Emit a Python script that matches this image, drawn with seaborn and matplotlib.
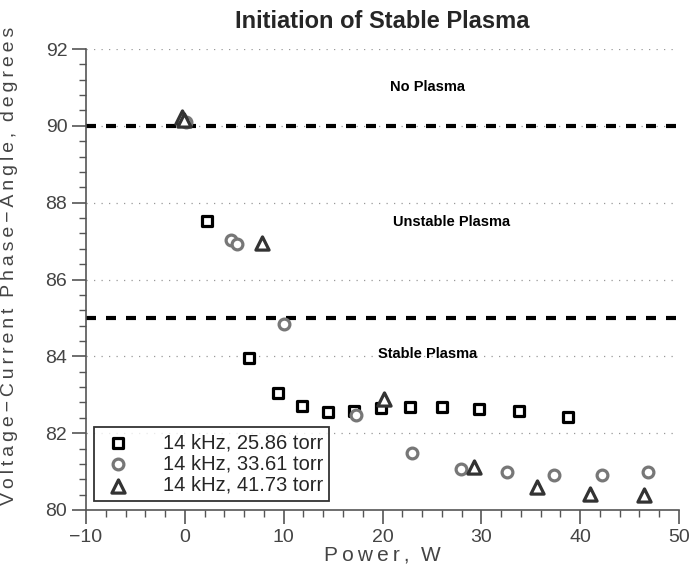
import numpy as np
import pandas as pd
import matplotlib
matplotlib.use("Agg")
import matplotlib.pyplot as plt
import seaborn as sns
from matplotlib.ticker import MultipleLocator

# Datos
pot_2586 = [2.2, 6.5, 9.4, 11.9, 14.5, 17.1, 19.8, 22.8, 26.0, 29.8, 33.8, 38.8]
fase_2586 = [87.52, 83.96, 83.05, 82.70, 82.55, 82.58, 82.65, 82.68, 82.68, 82.62, 82.58, 82.43]

pot_3361 = [0.1, 4.7, 5.3, 10.0, 17.3, 23.0, 27.9, 32.6, 37.4, 42.2, 46.9]
fase_3361 = [90.1, 87.04, 86.92, 84.85, 82.48, 81.48, 81.08, 81.0, 80.92, 80.92, 80.98]

pot_4173 = [-0.25, -0.1, 7.8, 20.2, 29.3, 35.6, 41.0, 46.5]
fase_4173 = [90.22, 90.14, 86.96, 82.88, 81.11, 80.6, 80.42, 80.4]

etiquetas = ["14 kHz, 25.86 torr", "14 kHz, 33.61 torr", "14 kHz, 41.73 torr"]
limites = [90, 85]
regiones = ["No Plasma", "Unstable Plasma", "Stable Plasma"]
pos_regiones = [(24.6, 91.0), (27.0, 87.5), (24.6, 84.05)]


def espaciar(texto):
    # Separa las letras con un espacio fino, como en la figura original
    return "\u2009".join(texto)


sns.set_style("white")
plt.rcParams['font.family'] = ['Liberation Sans', 'DejaVu Sans']
plt.rcParams['axes.unicode_minus'] = True

fig = plt.figure(figsize=(6.91, 5.76), dpi=100)
ax = fig.add_axes([0.1245, 0.1146, 0.8581, 0.8003])

gris_eje = "#555555"

# Rejilla punteada horizontal
for yv in [82, 84, 86, 88, 90, 92]:
    ax.axhline(yv, color="#999999", lw=0.9, ls=(0, (1, 5)), zorder=0)

# Líneas de límite entre regiones
for yv in limites:
    ax.axhline(yv, color="black", lw=3.0, ls=(0, (2.4, 2.4)), zorder=1)

sns.scatterplot(x=pot_2586, y=fase_2586, ax=ax, marker="s", s=42, color="white",
                edgecolor="black", linewidth=2.3, label=etiquetas[0], zorder=3)
sns.scatterplot(x=pot_3361, y=fase_3361, ax=ax, marker="o", s=60, color="white",
                edgecolor="#777777", linewidth=2.3, label=etiquetas[1], zorder=3)
sns.scatterplot(x=pot_4173, y=fase_4173, ax=ax, marker="^", s=90, color="white",
                edgecolor="#333333", linewidth=2.3, label=etiquetas[2], zorder=3)

for texto, (xp, yp) in zip(regiones, pos_regiones):
    ax.text(xp, yp, texto, ha="center", va="center", fontsize=10.5, fontweight="bold",
            color="black")

ax.set_xlim(-10, 50)
ax.set_ylim(80, 92)
ax.xaxis.set_major_locator(MultipleLocator(10))
ax.xaxis.set_minor_locator(MultipleLocator(2))
ax.yaxis.set_major_locator(MultipleLocator(2))
ax.yaxis.set_minor_locator(MultipleLocator(0.4))
ax.tick_params(which="major", direction="out", length=10, width=1.2, color=gris_eje,
               labelcolor="#444444", labelsize=14, left=True, bottom=True)
ax.tick_params(which="minor", direction="out", length=5, width=1.0, color=gris_eje,
               left=True, bottom=True)

for lado in ["top", "right"]:
    ax.spines[lado].set_visible(False)
for lado in ["left", "bottom"]:
    ax.spines[lado].set_color(gris_eje)
    ax.spines[lado].set_linewidth(1.2)

ax.set_xlabel(espaciar("Power,") + "  " + "W", fontsize=15, color="#444444", labelpad=0)
ax.set_ylabel(espaciar("Voltage\u2212Current") + "  " + espaciar("Phase\u2212Angle,")
              + "  " + espaciar("degrees"), fontsize=14, color="#444444", labelpad=8)
ax.yaxis.set_label_coords(-0.115, 0.53)
ax.set_title("Initiation of Stable Plasma", fontsize=17, fontweight="bold", pad=15)

leg = ax.legend(loc="lower left", bbox_to_anchor=(0.0135, 0.0195), borderaxespad=0,
                fontsize=14.5, frameon=True, fancybox=False, edgecolor="black",
                handletextpad=1.3, borderpad=0.3, labelspacing=0.12, handlelength=1.8)
leg.get_frame().set_linewidth(1.3)

plt.savefig("out.png", dpi=100)
plt.close()
